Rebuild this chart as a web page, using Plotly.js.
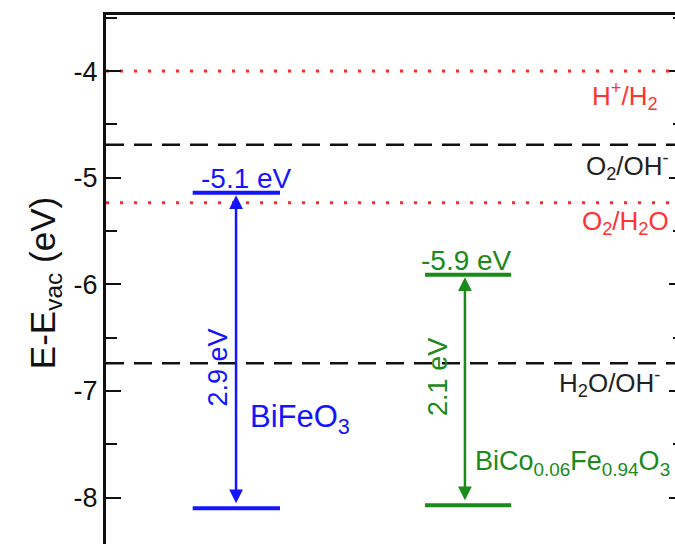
<!DOCTYPE html>
<html>
<head>
<meta charset="utf-8">
<script src="https://cdn.plot.ly/plotly-3.0.1.min.js"></script>
<style>
html,body{margin:0;padding:0;overflow:hidden;background:#fff;}
#chart{position:absolute;left:0;top:0;width:700px;height:560px;}
</style>
</head>
<body>
<div id="chart"></div>
<script>
// Axis ticks
var tickVals = [-8, -7, -6, -5, -4];
var tickText = ['-8', '-7', '-6', '-5', '-4'];
// Reference redox levels
var refLevels = [-4.0, -4.69, -5.235, -6.74];
var refLabels = ['H<sup>+</sup>/H<sub>2</sub>', 'O<sub>2</sub>/OH<sup>-</sup>', 'O<sub>2</sub>/H<sub>2</sub>O', 'H<sub>2</sub>O/OH<sup>-</sup>'];
var refLabelX = [0.958, 0.978, 0.978, 0.962];
// Materials
var materials = ['BiFeO<sub>3</sub>', 'BiCo<sub>0.06</sub>Fe<sub>0.94</sub>O<sub>3</sub>'];
var topLevels = [-5.14, -5.91];
var bottomLevels = [-8.10, -8.07];
var topLabels = ['-5.1 eV', '-5.9 eV'];
var gapLabels = ['2.9 eV', '2.1 eV'];
var barLeft = [0.150, 0.552];
var barRight = [0.301, 0.701];
var arrowX = [0.225, 0.621];

var FONT = 'Liberation Sans, Arial, Helvetica, sans-serif';
var refColors = ['#ff2a2a', '#111111', '#ff2a2a', '#111111'];
var refDash = ['3px,11px', '18px,10px', '3px,11px', '18px,10px'];
var refWidth = [3, 2.5, 3, 2.5];
var refTextColor = ['#ff3333', '#222222', '#ff3333', '#222222'];
var refShift = [-25, -21, -20, -20];
var matColors = ['#1414ff', '#1a8a1a'];
var topShiftX = [10, -2];
var gapShiftX = [-19, -27];
var gapShiftY = [-17, 13];
var nameShiftX = [12, 8];
var nameShiftY = [-68, -73];
var nameSize = [31, 27];

var traces = [];
var annotations = [];

for (var i = 0; i < refLevels.length; i++) {
  traces.push({
    x: [0, 1], y: [refLevels[i], refLevels[i]], mode: 'lines', hoverinfo: 'skip',
    line: {color: refColors[i], width: refWidth[i], dash: refDash[i]}
  });
  annotations.push({
    x: refLabelX[i], y: refLevels[i], xref: 'x', yref: 'y', xanchor: 'right', yanchor: 'middle',
    yshift: refShift[i], text: refLabels[i], showarrow: false,
    font: {family: FONT, size: 26, color: refTextColor[i]}
  });
}

for (var m = 0; m < materials.length; m++) {
  var c = matColors[m];
  traces.push({
    x: [barLeft[m], barRight[m]], y: [topLevels[m], topLevels[m]], mode: 'lines', hoverinfo: 'skip',
    line: {color: c, width: 4}
  });
  traces.push({
    x: [barLeft[m], barRight[m]], y: [bottomLevels[m], bottomLevels[m]], mode: 'lines', hoverinfo: 'skip',
    line: {color: c, width: 4}
  });
  // double arrow
  annotations.push({
    x: arrowX[m], y: bottomLevels[m], ax: arrowX[m], ay: topLevels[m],
    xref: 'x', yref: 'y', axref: 'x', ayref: 'y', text: '', showarrow: true,
    arrowhead: 2, startarrowhead: 2, arrowside: 'end+start', arrowsize: 1.1, startarrowsize: 1.1,
    arrowwidth: 2.5, arrowcolor: c, standoff: 5, startstandoff: 1
  });
  // top level value
  annotations.push({
    x: (barLeft[m] + barRight[m]) / 2, y: topLevels[m], xref: 'x', yref: 'y',
    xanchor: 'center', yanchor: 'bottom', xshift: topShiftX[m], yshift: -3,
    text: topLabels[m], showarrow: false,
    font: {family: FONT, size: 28, color: c}
  });
  // gap label (rotated)
  annotations.push({
    x: arrowX[m], y: (topLevels[m] + bottomLevels[m]) / 2, xref: 'x', yref: 'y',
    xanchor: 'center', yanchor: 'middle', xshift: gapShiftX[m], yshift: gapShiftY[m], textangle: -90,
    text: gapLabels[m], showarrow: false,
    font: {family: FONT, size: 27, color: c}
  });
  // material name
  annotations.push({
    x: arrowX[m], y: (topLevels[m] + bottomLevels[m]) / 2, xref: 'x', yref: 'y',
    xanchor: 'left', yanchor: 'middle', xshift: nameShiftX[m], yshift: nameShiftY[m],
    text: materials[m], showarrow: false,
    font: {family: FONT, size: nameSize[m], color: c}
  });
}

var layout = {
  width: 700, height: 560,
  margin: {l: 106, r: 16, t: 15, b: 9},
  paper_bgcolor: '#fff', plot_bgcolor: '#fff',
  showlegend: false,
  font: {family: FONT, color: '#111'},
  xaxis: {
    range: [0, 1], showline: true, linewidth: 3, linecolor: '#111', mirror: true,
    showgrid: false, zeroline: false, showticklabels: false, ticks: ''
  },
  yaxis: {
    range: [-8.5, -3.474], showline: true, linewidth: 3, linecolor: '#111', mirror: 'allticks',
    showgrid: false, zeroline: false, ticks: 'inside', ticklen: 15, tickwidth: 2, tickcolor: '#111',
    tickmode: 'array', tickvals: tickVals, ticktext: tickText,
    tickfont: {family: FONT, size: 27, color: '#111'},
    minor: {dtick: 0.5, tick0: 0, ticks: 'inside', ticklen: 11, tickwidth: 2, tickcolor: '#111', showgrid: false},
    title: {text: 'E-E<sub>vac</sub> (eV)', font: {family: FONT, size: 35, color: '#111'}, standoff: 8}
  },
  annotations: annotations
};

Plotly.newPlot('chart', traces, layout, {staticPlot: true, displayModeBar: false});
</script>
</body>
</html>
